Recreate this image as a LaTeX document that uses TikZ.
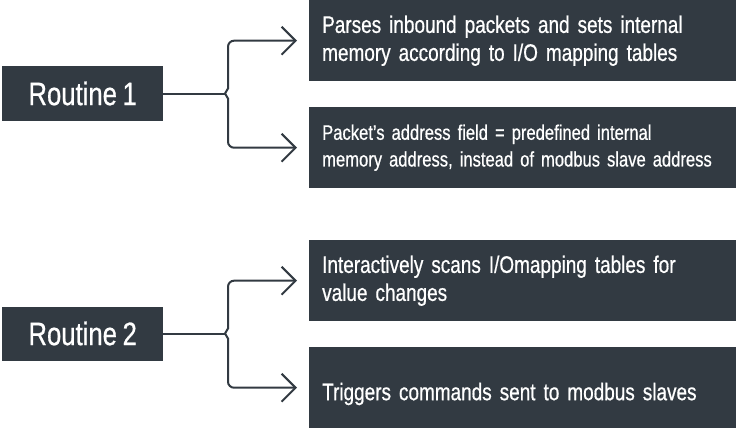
\documentclass[tikz,border=0pt]{standalone}
\usepackage{fontspec}
\setmainfont{Liberation Sans}[FakeStretch=0.79,WordSpace=0.79,FakeBold=0.6]
\usetikzlibrary{arrows.meta}
\definecolor{slate}{HTML}{323A42}
\begin{document}
\begin{tikzpicture}[x=1pt,y=-1pt,
    routine/.style={fill=slate,text=white,minimum width=161pt,minimum height=54pt,inner sep=0pt,font=\fontsize{32.5}{36}\selectfont},
    desc/.style={fill=slate,text=white,minimum width=427pt,minimum height=81pt,text width=430pt,inner xsep=13pt,inner ysep=0pt,align=left,font=\fontsize{24}{28}\selectfont},
    link/.style={draw=slate,line width=2pt}]
      \useasboundingbox (0,0) rectangle (736,428);
      \draw
        (2,93.5) node[routine,anchor=west] (r1){Routine 1}
        (2,333.5) node[routine,anchor=west] (r2){Routine 2}
        (309,0) node[desc,anchor=north west] (d1){Parses inbound packets and sets internal\\memory according to I/O mapping tables}
        (309,107) node[desc,anchor=north west,font=\fontsize{21}{26.7}\selectfont] (d2){Packet’s address field = predefined internal\\memory address, instead of modbus slave address}
        (309,240) node[desc,anchor=north west] (d3){Interactively scans I/Omapping tables for\\value changes}
        (309,347) node[desc,anchor=north west,text height=30pt,text depth=5pt] (d4){Triggers commands sent to modbus slaves}
        (225,93.5) coordinate (b1)
        (225,333.5) coordinate (b2);
      \draw[link] (r1.east) -- (b1);
      \draw[link] (r2.east) -- (b2);
      \begin{scope}[link,-{Straight Barb[length=14pt,width=28pt]}]
        \draw (b1) -- ++(3,-5) [rounded corners=6pt] |- ([xshift=-12pt]d1.west);
        \draw (b1) -- ++(3,5) [rounded corners=6pt] |- ([xshift=-12pt]d2.west);
        \draw (b2) -- ++(3,-5) [rounded corners=6pt] |- ([xshift=-12pt]d3.west);
        \draw (b2) -- ++(3,5) [rounded corners=6pt] |- ([xshift=-12pt]d4.west);
      \end{scope}
    \end{tikzpicture}
\end{document}
